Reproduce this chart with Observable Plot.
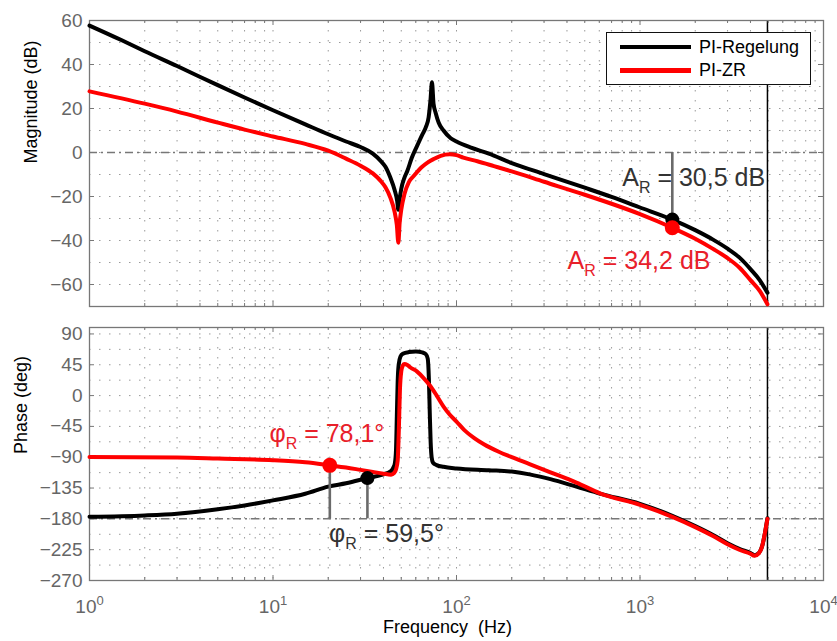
<!DOCTYPE html>
<html>
<head>
<meta charset="utf-8">
<script src="https://cdn.jsdelivr.net/npm/d3@7"></script>
<script src="https://cdn.jsdelivr.net/npm/@observablehq/plot@0.6"></script>
<style>
  body { margin: 0; background: #fff; }
  #wrap { position: relative; width: 837px; height: 641px; font-family: 'Liberation Sans', Arial, Helvetica, sans-serif; overflow: hidden; }
  #wrap svg { display: block; }
  .legend { position: absolute; left: 606px; top: 32px; width: 203px; height: 51px; border: 1.3px solid #111; background: #fff; }
  .legend .sw { position: absolute; left: 13px; width: 71px; height: 4.5px; }
  .legend .lb { position: absolute; left: 92px; font-size: 18px; color: #000; line-height: 18px; white-space: nowrap; }
</style>
</head>
<body>
<div id="wrap"></div>
<script>
// ---------------- data ----------------
const seriesNames = ["PI-Regelung", "PI-ZR"];
const seriesColors = ["#000000", "#ff0000"];

const xTicks = [1, 10, 100, 1000, 10000];
const xTickExponents = ["0", "1", "2", "3", "4"];
const magTicks = [-60, -40, -20, 0, 20, 40, 60];
const phaseTicks = [-270, -225, -180, -135, -90, -45, 0, 45, 90];

// Magnitude, PI-Regelung
const magFreqRegelung = [1, 1.5, 2, 3, 5, 7, 10, 15, 20, 25, 30, 35, 38.6, 41, 43.6, 46, 47.5, 48.2, 49, 50, 52, 54, 57, 61, 65, 68, 70.5, 72.1, 73.5, 75, 77, 80, 85, 93, 100, 120, 150, 200, 300, 500, 700, 1000, 1500, 2000, 2500, 3000, 3500, 4000, 4500, 4950];
const magRegelung = [57.7, 51.0, 46.0, 39.3, 30.6, 25.0, 19.2, 12.8, 8.3, 5, 2.5, -0.5, -3.8, -6.5, -11.4, -17, -22, -26, -21, -16.5, -11.5, -8.3, -2.5, 3, 8, 11.4, 16, 23.5, 31.9, 22, 18, 13.5, 10, 6.5, 5, 2.2, -0.5, -4.8, -9.8, -16, -20.2, -25, -30.5, -35.3, -39.6, -43.7, -47.9, -53, -58.1, -63.8];

// Magnitude, PI-ZR
const magFreqZR = [1, 2, 3, 5, 7, 10, 15, 20, 25, 30, 35, 38.6, 41, 43.6, 46, 47.3, 48.2, 49, 50, 52, 55, 58.6, 65, 69.5, 75, 82, 92, 100, 109, 130, 160, 200, 300, 500, 700, 1000, 1500, 2000, 2500, 3000, 3500, 4000, 4500, 4950];
const magZR = [27.8, 22.2, 18.6, 13.6, 10.4, 7.3, 3.9, 0.8, -2.8, -6, -9.5, -12.9, -15.8, -20.5, -27, -33, -41, -32, -26, -19, -13.5, -10.6, -6.5, -4.6, -3, -1.5, -0.8, -1.2, -2.3, -4, -6.2, -8.6, -13.3, -19.2, -23.3, -28, -34.2, -39.2, -43.8, -48, -52.5, -58, -63, -69];

// Phase, PI-Regelung
const phaseFreqRegelung = [1, 2, 3, 5, 7, 10, 15, 20, 25, 32.7, 40, 43.5, 45.3, 46.2, 46.8, 47.3, 47.8, 48.4, 49.5, 51, 55, 60, 65, 68, 69.7, 70.7, 71.5, 72.3, 73.2, 74.5, 78, 85, 100, 150, 200, 250, 325, 450, 610, 1000, 1500, 2000, 2500, 3000, 3500, 4000, 4200, 4450, 4650, 4800, 4950];
const phaseRegelung = [-177, -175, -172.5, -166, -160.4, -153, -143.4, -133, -128, -120.5, -115, -111, -105, -98, -80, -30, 20, 45, 57, 61, 63.5, 64.3, 63, 60.5, 54, 25, -25, -68, -90, -98, -101.5, -104, -106.4, -109, -111, -115, -122, -133, -143.5, -158, -175.5, -190.5, -203.5, -215.5, -224, -230, -233, -229.5, -218, -200, -179];

// Phase, PI-ZR
const phaseFreqZR = [1, 3, 5, 10, 15, 20.4, 25, 30, 35, 40, 44, 45.8, 46.8, 47.8, 48.5, 49.2, 50, 51, 52, 54, 56.1, 61, 66, 72, 78, 85, 92, 100, 110, 125, 141, 170, 200, 250, 325, 450, 610, 1000, 1500, 2000, 2500, 3000, 3500, 4000, 4200, 4450, 4650, 4800, 4950];
const phaseZR = [-89.5, -90.5, -92, -94.3, -97.5, -101.9, -105, -108.5, -111.5, -114, -115.5, -113, -108, -95, -50, 10, 35, 44, 46, 44.5, 41, 35, 26, 14, 0, -16, -28, -38, -50, -62, -71, -82, -90, -100, -112, -127, -143, -159.5, -177, -192, -205, -217, -225.5, -231, -234, -230, -218, -200, -180];

// Nyquist line
const nyquistFreq = [4950];

// Markers (crossover points)
const magMarkFreq = 1500;
const magMarkValues = [-30.5, -34.2];
const magMarkLabels = ["A_R = 30,5 dB", "A_R = 34,2 dB"];
const phaseMarkFreqs = [32.7, 20.4];
const phaseMarkValues = [-120.5, -101.9];
const phaseMarkLabels = ["φ_R = 59,5°", "φ_R = 78,1°"];

// ---------------- helpers ----------------
const FONT = "'Liberation Sans', Arial, Helvetica, sans-serif";
const W = 837, ML = 89, MR = 14;
const GRID = {stroke: "#9a9a9a", strokeWidth: 1, strokeDasharray: "1.5,8.5"};
const FRAME = "#777";
const TEXT_DARK = "#333";
const TEXT_RED = "#e8202a";

const rows = (fs, vs) => fs.map((f, i) => ({f, v: vs[i]}));
const xMinor = [];
for (const dec of [1, 10, 100, 1000]) for (let m = 2; m <= 9; m++) xMinor.push(m * dec);
const xGrid = [...xMinor, 10, 100, 1000];

function tickMarks(innerH, innerW, yMajor) {
  return [
    Plot.tickX(xTicks, {x: d => d, insetTop: innerH - 5, stroke: FRAME}),
    Plot.tickX(xTicks, {x: d => d, insetBottom: innerH - 5, stroke: FRAME}),
    Plot.tickX(xMinor, {x: d => d, insetTop: innerH - 3, stroke: FRAME}),
    Plot.tickX(xMinor, {x: d => d, insetBottom: innerH - 3, stroke: FRAME}),
    Plot.tickY(yMajor, {y: d => d, insetRight: innerW - 5, stroke: FRAME}),
    Plot.tickY(yMajor, {y: d => d, insetLeft: innerW - 5, stroke: FRAME})
  ];
}

function richText(svg) {
  d3.select(svg).selectAll("text").each(function () {
    const s = this.textContent;
    const t = d3.select(this);
    if (s.includes("^")) {
      const [b, e] = s.split("^");
      t.text(null);
      t.append("tspan").text(b);
      t.append("tspan").attr("dy", -8.5).attr("font-size", 13).text(e);
    } else if (s.includes("_")) {
      const m = s.match(/^(.*)_(.)(.*)$/);
      t.text(null).style("white-space", "pre");
      t.append("tspan").text(m[1]);
      t.append("tspan").attr("dy", 7).attr("font-size", 16).text(m[2]);
      t.append("tspan").attr("dy", -7).text(m[3]);
    }
  });
}

// ---------------- top: magnitude ----------------
const topH = 316, topMT = 20, topMB = 10;
const topInnerH = topH - topMT - topMB, innerW = W - ML - MR;

const magGrid = d3.range(-60, 60, 10);
const topPlot = Plot.plot({
  width: W, height: topH, marginLeft: ML, marginRight: MR, marginTop: topMT, marginBottom: topMB,
  style: {fontFamily: FONT, color: "#666", background: "white", overflow: "visible"},
  x: {type: "log", domain: [1, 1e4], axis: null},
  y: {domain: [-70, 60], axis: null},
  marks: [
    Plot.ruleX(xGrid, {x: d => d, ...GRID}),
    Plot.ruleY(magGrid, {y: d => d, ...GRID}),
    Plot.ruleY([0], {y: d => d, stroke: "#777", strokeWidth: 1.5, strokeDasharray: "8,4,2,4"}),
    Plot.ruleX(nyquistFreq, {x: d => d, stroke: "#000", strokeWidth: 1.5}),
    ...tickMarks(topInnerH, innerW, magTicks),
    Plot.frame({stroke: FRAME, strokeWidth: 1.3}),
    Plot.line(rows(magFreqRegelung, magRegelung), {x: "f", y: "v", stroke: seriesColors[0], strokeWidth: 4, curve: "monotone-x"}),
    Plot.line(rows(magFreqZR, magZR), {x: "f", y: "v", stroke: seriesColors[1], strokeWidth: 4, curve: "monotone-x"}),
    Plot.ruleX([{f: magMarkFreq, v: magMarkValues[0]}], {x: "f", y1: () => 0, y2: "v", stroke: "#6a6a6a", strokeWidth: 2.6}),
    Plot.dot([{f: magMarkFreq, v: magMarkValues[0]}], {x: "f", y: "v", r: 7, fill: seriesColors[0]}),
    Plot.dot([{f: magMarkFreq, v: magMarkValues[1]}], {x: "f", y: "v", r: 7.5, fill: seriesColors[1]}),
    Plot.text([magMarkLabels[0]], {x: () => 800, y: () => -15.1, text: d => d, textAnchor: "start", lineAnchor: "bottom", fontSize: 25, fill: TEXT_DARK}),
    Plot.text([magMarkLabels[1]], {x: () => 403, y: () => -52.9, text: d => d, textAnchor: "start", lineAnchor: "bottom", fontSize: 25, fill: TEXT_RED}),
    Plot.axisY({ticks: magTicks, tickSize: 0, tickPadding: 7, fontSize: 19, label: null}),
    Plot.text(["Magnitude (dB)"], {frameAnchor: "left", dx: -58, rotate: -90, fontSize: 18, fill: "#000"})
  ]
});

// ---------------- bottom: phase ----------------
const botH = 325, botMT = 11, botMB = 61;
const botInnerH = botH - botMT - botMB;
const phaseGrid = d3.range(-247.5, 91, 22.5);

const botPlot = Plot.plot({
  width: W, height: botH, marginLeft: ML, marginRight: MR, marginTop: botMT, marginBottom: botMB,
  style: {fontFamily: FONT, color: "#666", background: "white", overflow: "visible"},
  x: {type: "log", domain: [1, 1e4], axis: null},
  y: {domain: [-270, 99.4], axis: null},
  marks: [
    Plot.ruleX(xGrid, {x: d => d, ...GRID}),
    Plot.ruleY(phaseGrid, {y: d => d, ...GRID}),
    Plot.ruleY([-180], {y: d => d, stroke: "#777", strokeWidth: 1.5, strokeDasharray: "8,4,2,4"}),
    Plot.ruleX(nyquistFreq, {x: d => d, stroke: "#000", strokeWidth: 1.5}),
    ...tickMarks(botInnerH, innerW, phaseTicks),
    Plot.frame({stroke: FRAME, strokeWidth: 1.3}),
    Plot.line(rows(phaseFreqRegelung, phaseRegelung), {x: "f", y: "v", stroke: seriesColors[0], strokeWidth: 4, curve: "monotone-x"}),
    Plot.line(rows(phaseFreqZR, phaseZR), {x: "f", y: "v", stroke: seriesColors[1], strokeWidth: 4, curve: "monotone-x"}),
    Plot.ruleX(rows(phaseMarkFreqs, phaseMarkValues), {x: "f", y1: () => -180, y2: "v", stroke: "#6a6a6a", strokeWidth: 2.6}),
    Plot.dot([{f: phaseMarkFreqs[0], v: phaseMarkValues[0]}], {x: "f", y: "v", r: 7, fill: seriesColors[0]}),
    Plot.dot([{f: phaseMarkFreqs[1], v: phaseMarkValues[1]}], {x: "f", y: "v", r: 7.5, fill: seriesColors[1]}),
    Plot.text([phaseMarkLabels[0]], {x: () => 20.2, y: () => -213.9, text: d => d, textAnchor: "start", lineAnchor: "bottom", fontSize: 25, fill: TEXT_DARK}),
    Plot.text([phaseMarkLabels[1]], {x: () => 9.56, y: () => -68.2, text: d => d, textAnchor: "start", lineAnchor: "bottom", fontSize: 25, fill: TEXT_RED}),
    Plot.axisY({ticks: phaseTicks, tickSize: 0, tickPadding: 7, fontSize: 19, label: null}),
    Plot.axisX({ticks: xTicks, tickSize: 0, tickPadding: 19, fontSize: 19, label: null, tickFormat: (d) => "10^" + xTickExponents[xTicks.indexOf(d)]}),
    Plot.text(["Phase (deg)"], {frameAnchor: "left", dx: -68, rotate: -90, fontSize: 18, fill: "#000"}),
    Plot.text(["Frequency  (Hz)"], {frameAnchor: "bottom", dx: -9, dy: 52, lineAnchor: "bottom", fontSize: 18, fill: "#000"})
  ]
});

const wrap = document.getElementById("wrap");
wrap.appendChild(topPlot);
wrap.appendChild(botPlot);
richText(topPlot);
richText(botPlot);
d3.select(botPlot).selectAll("text").filter(function(){ return this.textContent === "Frequency  (Hz)"; }).style("white-space", "pre");

// ---------------- legend ----------------
const legend = document.createElement("div");
legend.className = "legend";
seriesNames.forEach((name, i) => {
  const y = 14 + i * 23.3;
  const sw = document.createElement("div");
  sw.className = "sw";
  sw.style.top = (y - 2.25) + "px";
  sw.style.background = seriesColors[i];
  const lb = document.createElement("div");
  lb.className = "lb";
  lb.style.top = (y - 9) + "px";
  lb.textContent = name;
  legend.appendChild(sw);
  legend.appendChild(lb);
});
wrap.appendChild(legend);
</script>
</body>
</html>
